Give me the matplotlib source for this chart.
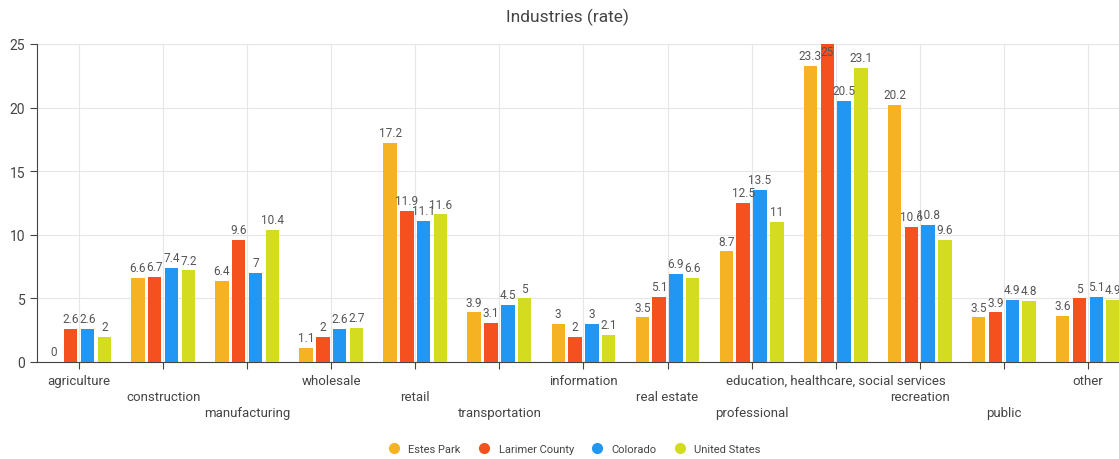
import numpy as np
import matplotlib.pyplot as plt
from matplotlib.lines import Line2D

plt.rcParams['font.family'] = ['Roboto', 'DejaVu Sans']

categories = ['agriculture', 'construction', 'manufacturing', 'wholesale', 'retail',
              'transportation', 'information', 'real estate', 'professional',
              'education, healthcare, social services', 'recreation', 'public', 'other']
series = ['Estes Park', 'Larimer County', 'Colorado', 'United States']
estes_park = [0, 6.6, 6.4, 1.1, 17.2, 3.9, 3, 3.5, 8.7, 23.3, 20.2, 3.5, 3.6]
larimer_county = [2.6, 6.7, 9.6, 2, 11.9, 3.1, 2, 5.1, 12.5, 25, 10.6, 3.9, 5]
colorado = [2.6, 7.4, 7, 2.6, 11.1, 4.5, 3, 6.9, 13.5, 20.5, 10.8, 4.9, 5.1]
united_states = [2, 7.2, 10.4, 2.7, 11.6, 5, 2.1, 6.6, 11, 23.1, 9.6, 4.8, 4.9]
colors = ['#F5B324', '#F4511E', '#2196F3', '#D4DC1F']

fig = plt.figure(figsize=(11.19, 4.6), dpi=100)
ax = fig.add_axes([37 / 1119, 97 / 460, 1 - 37 / 1119, 318 / 460])

x = np.arange(len(categories))
width = 0.16
offsets = [-0.3, -0.1, 0.1, 0.3]
for vals, off, col, name in zip([estes_park, larimer_county, colorado, united_states],
                                offsets, colors, series):
    bars = ax.bar(x + off, vals, width, color=col, label=name, zorder=3)
    for b, v in zip(bars, vals):
        # labels that would leave the plot area stay just inside it
        ax.text(b.get_x() + b.get_width() / 2, min(v, 23.6) + 0.3, f'{v:g}',
                ha='center', va='bottom', fontsize=8.5, color='#555555', zorder=4)

ax.set_xlim(-0.5, 12.37)
ax.set_ylim(0, 25)
ax.set_yticks([0, 5, 10, 15, 20, 25])
ax.set_xticks(x)
ax.set_xticklabels(['\n' * (i % 3) + c for i, c in enumerate(categories)],
                   fontsize=9.5, color='#444444', linespacing=1.3)
ax.tick_params(axis='y', labelsize=10, colors='#444444', length=5)
ax.tick_params(axis='x', length=5, color='#444444')
ax.grid(True, color='#e6e6e6', linewidth=0.8, zorder=0)
for s in ['top', 'right']:
    ax.spines[s].set_visible(False)
for s in ['left', 'bottom']:
    ax.spines[s].set_color('#444444')

fig.text(0.507, 0.962, 'Industries (rate)', ha='center', va='center',
         fontsize=12.5, color='#444444')

handles = [Line2D([], [], marker='o', linestyle='none', markersize=7,
                  markerfacecolor=c, markeredgecolor=c) for c in colors]
fig.legend(handles, series, loc='center', bbox_to_anchor=(0.511, 0.022), ncol=4,
           frameon=False, fontsize=8, handletextpad=0.3, columnspacing=1.1,
           labelcolor='#444444')

fig.savefig('out.png', dpi=100)
